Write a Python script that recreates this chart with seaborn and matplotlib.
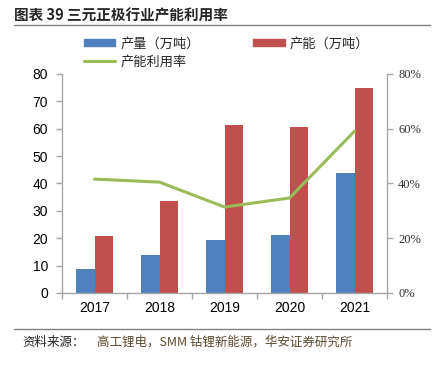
import matplotlib
matplotlib.use("Agg")
import matplotlib.pyplot as plt
import seaborn as sns
import pandas as pd
import numpy as np
from matplotlib.patches import Patch
from matplotlib.lines import Line2D
from matplotlib.ticker import FuncFormatter

years = ["2017", "2018", "2019", "2020", "2021"]
production = [8.8, 13.9, 19.3, 21.2, 43.8]
capacity = [20.8, 33.6, 61.3, 60.6, 74.8]
utilization = [0.416, 0.405, 0.314, 0.347, 0.591]
series_names = ["产量（万吨）", "产能（万吨）", "产能利用率"]

BLUE = "#4F81BD"
RED = "#C0504D"
GREEN = "#9BBB59"
AXC = "#A6A6A6"

sns.set_theme(style="white")
plt.rcParams["font.family"] = ["Noto Sans CJK SC", "DejaVu Sans"]

df = pd.DataFrame({
    "year": years * 2,
    "value": production + capacity,
    "series": [series_names[0]] * len(years) + [series_names[1]] * len(years),
})

fig = plt.figure(figsize=(4.41, 3.69), dpi=100)
ax = fig.add_axes([0.1406, 0.206, 0.737, 0.5935])
sns.barplot(data=df, x="year", y="value", hue="series",
            palette=[BLUE, RED], width=0.56, gap=0, ax=ax,
            legend=False, saturation=1, edgecolor="none")
ax.set_xlim(-0.5, len(years) - 0.5)
ax.set_ylim(0, 80)
ax.set_yticks(range(0, 81, 10))
ax.set_xlabel("")
ax.set_ylabel("")
ax.spines["top"].set_visible(False)
ax.spines["right"].set_visible(False)
for s in ["left", "bottom"]:
    ax.spines[s].set_color(AXC)
    ax.spines[s].set_linewidth(1)
ax.tick_params(axis="y", which="major", direction="out", length=4, color=AXC,
               width=1, left=True, labelsize=10, pad=6)
ax.set_xticks(np.arange(-0.5, len(years), 1.0), minor=True)
ax.tick_params(axis="x", which="minor", direction="out", length=4, color=AXC, width=1, bottom=True)
ax.tick_params(axis="x", which="major", length=0, labelsize=10, pad=6)
for lab in ax.get_yticklabels() + ax.get_xticklabels():
    lab.set_fontfamily("Liberation Sans")
    lab.set_color("#000000")

ax2 = ax.twinx()
sns.lineplot(x=np.arange(len(years)), y=utilization, color=GREEN, linewidth=2.2, ax=ax2)
ax2.set_ylim(0, 0.8)
ax2.set_yticks(np.arange(0, 0.81, 0.2))
ax2.yaxis.set_major_formatter(FuncFormatter(lambda v, p: f"{v*100:.0f}%"))
ax2.set_xlim(-0.5, len(years) - 0.5)
for s in ["top", "left", "bottom"]:
    ax2.spines[s].set_visible(False)
ax2.spines["right"].set_color(AXC)
ax2.spines["right"].set_linewidth(1)
ax2.tick_params(axis="y", direction="out", length=4, color=AXC, width=1, right=True,
                labelsize=9, pad=4)
for lab in ax2.get_yticklabels():
    lab.set_fontfamily("Liberation Serif")
    lab.set_color("#333333")

# legend
handles = [Patch(color=BLUE), Line2D([], [], color=GREEN, lw=2.2), Patch(color=RED)]
labels = [series_names[0], series_names[2], series_names[1]]
fig.legend(handles, labels, ncol=2, loc="upper left", bbox_to_anchor=(0.19, 0.898),
           frameon=False, fontsize=9.5, handlelength=2.4, handleheight=0.45,
           columnspacing=4.0, labelspacing=0.35, handletextpad=0.4,
           borderaxespad=0, borderpad=0)

# title and source
fig.text(0.032, 0.958, "图表 39 三元正极行业产能利用率", fontsize=10.5, fontweight="bold",
         ha="left", va="center", family=["Noto Sans CJK SC", "DejaVu Sans"])
fig.add_artist(Line2D([0.032, 0.975], [0.932, 0.932], color="#808080", lw=1))
fig.add_artist(Line2D([0.032, 0.975], [0.108, 0.108], color="#808080", lw=1))
fig.text(0.05, 0.073, "资料来源：", fontsize=9, color="#222222", ha="left", va="center",
         family=["Noto Sans CJK SC", "DejaVu Sans"])
fig.text(0.22, 0.073, "高工锂电，SMM 钴锂新能源，华安证券研究所", fontsize=9,
         color="#5C4A2E", ha="left", va="center", family=["Noto Sans CJK SC", "DejaVu Sans"])

fig.savefig("out.png", dpi=100)
